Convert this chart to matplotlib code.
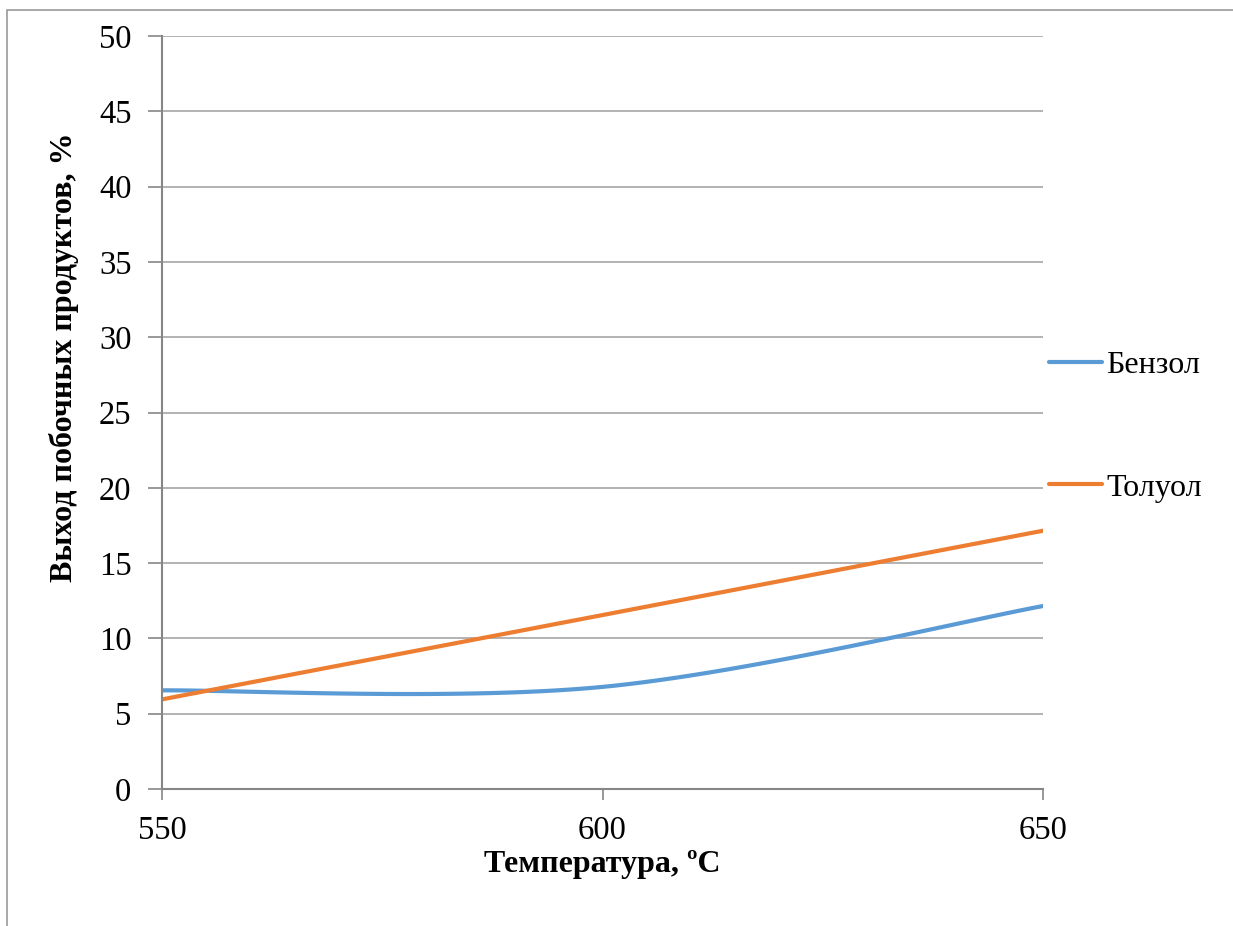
import numpy as np
import matplotlib
matplotlib.use('Agg')
import matplotlib.pyplot as plt
from matplotlib.patches import Rectangle

plt.rcParams['font.family'] = ['Liberation Serif', 'DejaVu Serif']

# temperature points and yields of the by-products
temps = [550, 600, 650]
benzene = [6.55, 6.78, 12.15]
toluene = [5.95, 11.55, 17.15]
series_names = ['Бензол', 'Толуол']
yticks = list(range(0, 51, 5))


def smooth(xs, ys, n=60):
    # cubic Bezier smoothing through the points (spreadsheet-style)
    p = np.column_stack([xs, ys]).astype(float)
    out = []
    for i in range(len(p) - 1):
        prev = p[i - 1] if i > 0 else p[i]
        nxt = p[i + 2] if i + 2 < len(p) else p[i + 1]
        c1 = p[i] + (p[i + 1] - prev) / 6
        c2 = p[i + 1] - (nxt - p[i]) / 6
        t = np.linspace(0, 1, n)[:, None]
        seg = ((1 - t) ** 3 * p[i] + 3 * (1 - t) ** 2 * t * c1
               + 3 * (1 - t) * t ** 2 * c2 + t ** 3 * p[i + 1])
        out.append(seg if i == 0 else seg[1:])
    out = np.vstack(out)
    return out[:, 0], out[:, 1]


fig = plt.figure(figsize=(12.33, 9.26), dpi=100)
ax = fig.add_axes([162 / 1233, 1 - 789 / 926, (1043 - 162) / 1233, (789 - 36) / 926])

# outer chart frame
fig.patches.append(Rectangle((7 / 1233, -0.05), 1.0, 1 - 10 / 926 + 0.05,
                             transform=fig.transFigure, fill=False,
                             edgecolor='#9a9a9a', linewidth=1.2))

axis_col = '#868686'
grid_col = '#a6a6a6'

for ys, col, name in zip([benzene, toluene], ['#5b9bd5', '#ed7d31'], series_names):
    sx, sy = smooth(temps, ys)
    ax.plot(sx, sy, color=col, linewidth=3.0, label=name, solid_capstyle='round')

ax.set_xlim(550, 650)
ax.set_ylim(0, 50)
ax.set_xticks(temps)
ax.set_yticks(yticks)
ax.yaxis.grid(True, color=grid_col, linewidth=1.2)
ax.set_axisbelow(True)

for s in ['top', 'right']:
    ax.spines[s].set_visible(False)
for s in ['left', 'bottom']:
    ax.spines[s].set_color(axis_col)
    ax.spines[s].set_linewidth(1.5)

ax.tick_params(axis='y', length=10, width=1.2, color=axis_col, labelsize=23.5, pad=12)
ax.tick_params(axis='x', length=8, width=1.2, color=axis_col, labelsize=23.5, pad=11)

ax.set_xlabel('Температура, ºC', fontsize=23, fontweight='bold')
ax.set_ylabel('Выход побочных продуктов, %', fontsize=23, fontweight='bold')
ax.xaxis.set_label_coords(0.5, 1 - (850 - 36) / 753)
ax.yaxis.set_label_coords(-(162 - 79) / 881, (789 - 357) / 753)

fig.legend(loc='center left', bbox_to_anchor=(1049 / 1233, 1 - 426.5 / 926),
           frameon=False, fontsize=23, borderpad=0, borderaxespad=0,
           handlelength=1.65, handletextpad=0.15, labelspacing=2.92)

fig.savefig('out.png', dpi=100)
